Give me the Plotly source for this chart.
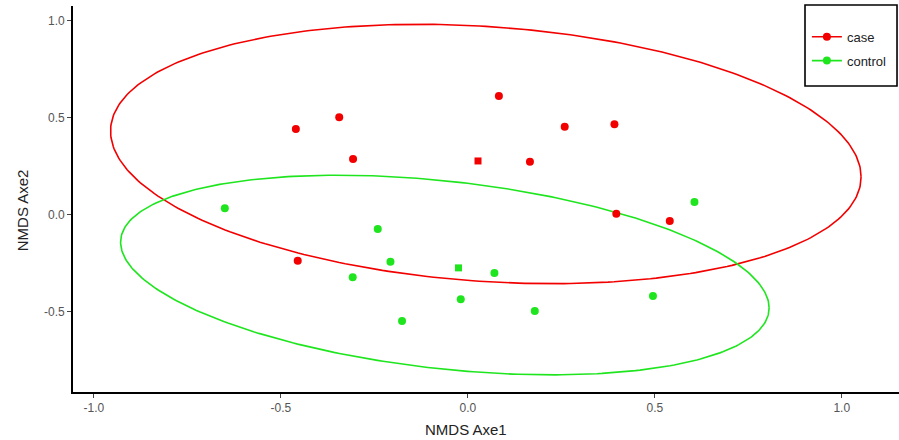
import numpy as np
import plotly.graph_objects as go

# ---- data ----
groups = ["case", "control"]
colors = {"case": "#F20000", "control": "#1FE51F"}

case_x = [-0.460, -0.344, -0.307, 0.083, 0.259, 0.392, 0.166, 0.397, 0.540, -0.455]
case_y = [0.440, 0.500, 0.285, 0.610, 0.452, 0.464, 0.271, 0.003, -0.035, -0.239]

control_x = [-0.650, 0.606, -0.241, -0.207, -0.308, 0.071, -0.019, 0.179, -0.176, 0.495]
control_y = [0.031, 0.063, -0.076, -0.244, -0.325, -0.303, -0.438, -0.498, -0.550, -0.421]

# ellipse parameters (centre and shape matrix)
case_ell_center = [0.048, 0.311]
case_ell_shape = [[1.0072, -0.1185], [-0.1185, 0.447]]
control_ell_center = [-0.0615, -0.313]
control_ell_shape = [[0.752, -0.147], [-0.147, 0.2649]]

x_ticks = [-1.0, -0.5, 0.0, 0.5, 1.0]
x_tick_labels = ["-1.0", "-0.5", "0.0", "0.5", "1.0"]
y_ticks = [-0.5, 0.0, 0.5, 1.0]
y_tick_labels = ["-0.5", "0.0", "0.5", "1.0"]
x_title = "NMDS Axe1"
y_title = "NMDS Axe2"

pts = {"case": (case_x, case_y), "control": (control_x, control_y)}
ells = {"case": (case_ell_center, case_ell_shape),
        "control": (control_ell_center, control_ell_shape)}

fig = go.Figure()
t = np.linspace(0, 2 * np.pi, 361)
for g in groups:
    c, m = ells[g]
    L = np.linalg.cholesky(np.array(m))
    xy = L @ np.vstack([np.cos(t), np.sin(t)])
    fig.add_trace(go.Scatter(x=xy[0] + c[0], y=xy[1] + c[1], mode="lines",
                             line=dict(color=colors[g], width=1.6),
                             showlegend=False, hoverinfo="skip"))
for g in groups:
    xs, ys = pts[g]
    fig.add_trace(go.Scatter(x=xs, y=ys, mode="markers",
                             marker=dict(color=colors[g], size=8, symbol="circle"),
                             showlegend=False, name=g))
    fig.add_trace(go.Scatter(x=[float(np.mean(xs))], y=[float(np.mean(ys))], mode="markers",
                             marker=dict(color=colors[g], size=7, symbol="square"),
                             showlegend=False))
    fig.add_trace(go.Scatter(x=[None], y=[None], mode="lines+markers", name=g,
                             legendgroup=g,
                             line=dict(color=colors[g], width=1.6),
                             marker=dict(color=colors[g], size=8)))

axis_common = dict(showgrid=False, zeroline=False, showline=True, linecolor="black",
                   linewidth=1.6, ticks="outside", ticklen=4, tickcolor="#444",
                   tickwidth=1, automargin=False,
                   tickfont=dict(family="Liberation Sans", size=12, color="#555"))
fig.update_xaxes(range=[-1.056, 1.153], tickvals=x_ticks, ticktext=x_tick_labels, **axis_common)
fig.update_yaxes(range=[-0.916, 1.074], tickvals=y_ticks, ticktext=y_tick_labels, **axis_common)

title_font = dict(family="Liberation Sans", size=15, color="#222")
fig.add_annotation(text=x_title, xref="paper", yref="paper", x=0.476, y=-0.098,
                   xanchor="center", yanchor="middle", showarrow=False, font=title_font)
fig.add_annotation(text=y_title, xref="paper", yref="paper", x=-0.0617, y=0.471,
                   xanchor="center", yanchor="middle", showarrow=False, textangle=-90,
                   font=title_font)

# legend frame
fig.add_shape(type="rect", xref="paper", yref="paper", x0=0.8862, x1=0.9976,
              y0=0.7927, y1=1.0026, line=dict(color="black", width=1.6),
              fillcolor="white", layer="below")

fig.update_layout(width=899, height=440, margin=dict(l=73, r=0, t=6, b=48),
                  plot_bgcolor="white", paper_bgcolor="white",
                  legend=dict(x=0.8885, y=1.003, xanchor="left", yanchor="top",
                              traceorder="grouped", tracegroupgap=4,
                              title=dict(text=" ", font=dict(size=13)),
                              borderwidth=0, bgcolor="rgba(0,0,0,0)",
                              font=dict(family="Liberation Sans", size=13, color="#222")))
fig.write_html("out.html", config={"displayModeBar": False},
               post_script="document.body.style.margin='0';document.body.style.overflow='hidden';")
